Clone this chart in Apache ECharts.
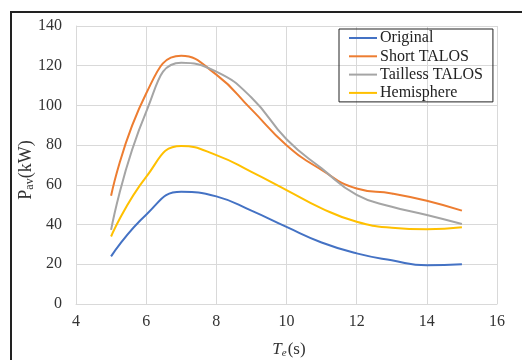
<!DOCTYPE html>
<html><head><meta charset="utf-8">
<script src="https://cdn.jsdelivr.net/npm/echarts@6/dist/echarts.min.js"></script>
<style>html,body{margin:0;padding:0;background:#fff}#c{width:522px;height:360px}</style>
</head><body><div id="c"></div>
<script>
const te = [5, 6, 7, 8, 9, 10, 11, 12, 13, 14, 15];
const original = [24, 45, 56.5, 54.2, 47, 38.8, 31, 25.5, 22, 19.5, 20];
const shortTalos = [54.5, 106, 125, 115.5, 98, 80, 67.5, 58.2, 55.7, 52, 47];
const taillessTalos = [37.3, 96.8, 121.5, 117, 104, 83, 68.3, 55, 49, 44.8, 40.3];
const hemisphere = [34, 64, 79.6, 75, 66.5, 57.4, 48.2, 41.4, 38.4, 37.6, 38.6];
const xTicks = [4, 6, 8, 10, 12, 14, 16];
const yTicks = [0, 20, 40, 60, 80, 100, 120, 140];
const names = ['Original', 'Short TALOS', 'Tailless TALOS', 'Hemisphere'];
const colors = ['#4472C4', '#ED7D31', '#A5A5A5', '#FFC000'];
const seriesData = [original, shortTalos, taillessTalos, hemisphere];

const font = '"Liberation Serif", "Times New Roman", serif';
const chart = echarts.init(document.getElementById('c'));
chart.setOption({
  animation: false,
  textStyle: {fontFamily: font},
  grid: {left: 76, right: 25, top: 26, bottom: 56, containLabel: false, outerBoundsMode: 'none'},
  legend: {
    orient: 'vertical', left: 339, top: 29,
    padding: [1, 10, 1, 10], itemGap: 2.3,
    borderColor: '#222', borderWidth: 1,
    itemWidth: 28, itemHeight: 10,
    icon: 'path://M0,4 L28,4 L28,6 L0,6 Z',
    textStyle: {fontFamily: font, fontSize: 16, color: '#222', lineHeight: 16, padding: [0, 0, 0, -2]},
    data: names
  },
  xAxis: {
    type: 'value', min: xTicks[0], max: xTicks[xTicks.length - 1], interval: 2,
    axisLine: {show: true, lineStyle: {color: '#d9d9d9'}},
    axisTick: {show: false},
    splitLine: {show: true, lineStyle: {color: '#d9d9d9'}},
    axisLabel: {fontFamily: font, fontSize: 16, color: '#333', margin: 10},
    name: '{i|T}{sub|e}{n|(s)}',
    nameLocation: 'middle', nameGap: 36, nameMoveOverlap: false,
    nameTextStyle: {
      padding: [0, 0, 0, 5],
      rich: {
        i: {fontFamily: font, fontSize: 17, fontStyle: 'italic', color: '#333'},
        sub: {fontFamily: font, fontSize: 11, fontStyle: 'italic', color: '#333', verticalAlign: 'bottom', padding: [8, 1, 0, 0]},
        n: {fontFamily: font, fontSize: 17, color: '#333'}
      }
    }
  },
  yAxis: {
    type: 'value', min: yTicks[0], max: yTicks[yTicks.length - 1], interval: 20,
    axisLine: {show: true, lineStyle: {color: '#d9d9d9'}},
    axisTick: {show: false},
    splitLine: {show: true, lineStyle: {color: '#d9d9d9'}},
    axisLabel: {fontFamily: font, fontSize: 16, color: '#333', margin: 14},
    name: '{n|P}{sub|av}{n|(kW)}',
    nameLocation: 'middle', nameGap: 40, nameRotate: 90, nameMoveOverlap: false,
    nameTextStyle: {
      padding: [0, 10, 0, 0],
      rich: {
        n: {fontFamily: font, fontSize: 18, color: '#333'},
        sub: {fontFamily: font, fontSize: 12, color: '#333', verticalAlign: 'bottom', padding: [8, 0, 0, 0]}
      }
    }
  },
  graphic: [{
    type: 'polyline', silent: true,
    shape: {points: [[11, 360], [11, 12], [522, 12]]},
    style: {stroke: '#222', lineWidth: 2, fill: null}
  }],
  series: names.map((n, k) => ({
    name: n, type: 'line', smooth: 0.5, symbol: 'none',
    lineStyle: {width: 2, color: colors[k]}, itemStyle: {color: colors[k]},
    data: te.map((x, i) => [x, seriesData[k][i]])
  }))
});
</script></body></html>
